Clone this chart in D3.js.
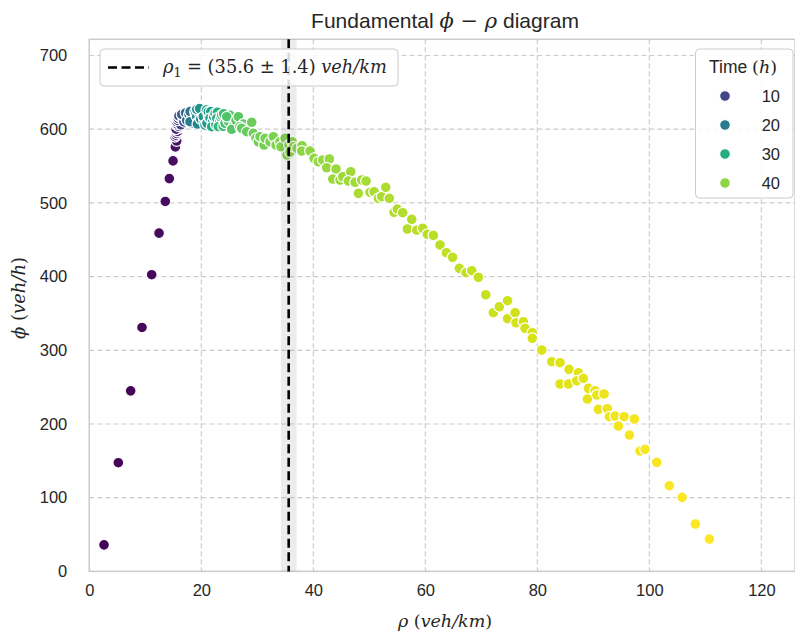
<!DOCTYPE html>
<html><head><meta charset="utf-8">
<script src="https://cdn.jsdelivr.net/npm/d3@7"></script>
<style>html,body{margin:0;padding:0;background:#fff;} svg{display:block;}</style>
</head><body>
<script>
// ---- data ----
const rho = [2.63,5.18,7.39,9.41,11.14,12.45,13.57,14.29,14.95,15.36,15.6,
 15.30,15.61,15.89,15.61,16.20,15.61,16.50,15.89,16.20,16.79,17.39,16.79,17.98,17.39,18.29,18.57,18.88,17.98,19.18,19.46,20.07,19.18,20.36,20.66,21.25,21.55,21.86,22.45,22.75,23.04,23.64,24.23,24.54,25.43,26.61,26.91,27.21,28.11,29.00,29.29,
 29.77,30.18,30.48,31.20,31.38,32.27,32.86,33.34,34.05,34.23,34.95,35.30,35.66,35.84,36.20,36.43,37.09,37.98,37.93,39.41,40.13,40.89,41.68,42.86,42.39,44.05,43.46,44.77,45.25,46.68,46.25,47.45,48.64,49.41,48.04,50.13,50.84,51.61,52.21,52.93,53.57,54.41,55.00,55.96,57.57,56.79,58.46,59.54,60.36,61.43,62.63,63.75,64.86,66.07,67.27,68.29,69.46,70.79,72.14,73.21,74.68,74.68,76.02,76.20,77.50,77.80,79.09,79.09,80.79,82.57,84.05,85.66,87.32,84.05,85.54,87.04,88.21,89.11,90.30,88.93,90.61,91.91,90.89,92.50,92.86,93.88,95.48,97.32,94.46,96.43,98.34,99.23,101.32,103.57,105.84,108.21,110.71];
const phi = [36,147.5,245,331,402.6,459,502,533,557,576,584,
 589.8,594.4,601.2,605.7,608.0,610.2,612.0,614.8,617.0,614.8,619.3,621.6,617.0,612.0,620.6,608.0,623.7,610.2,617.0,610.2,625.1,627.0,617.0,605.7,623.7,614.8,603.4,621.6,614.8,603.4,619.3,608.0,617.0,599.9,617.0,603.4,601.2,596.6,609.4,594.4,
 587.6,583.0,589.8,578.5,587.6,583.0,589.8,578.5,583.0,576.2,587.6,565.0,578.5,569.1,583.0,576.2,574.1,577.6,570.4,570.4,560.5,555.9,558.2,559.6,547.7,546.0,532.4,531.1,535.5,542.3,529.7,528.0,531.1,529.7,513.0,514.4,515.2,506.2,508.4,521.2,506.2,487.2,491.7,486.7,477.7,464.6,463.2,465.5,457.4,456.0,442.9,432.4,426.2,411.2,405.3,408.0,399.0,375.4,351.0,359.1,367.3,342.9,351.0,337.4,338.8,329.8,323.9,316.3,300.4,284.5,283.2,274.2,269.6,254.3,254.3,258.7,262.0,248.4,245.2,233.9,239.3,240.7,219.9,220.7,209.9,210.8,209.9,206.8,197.3,185.0,163.3,165.6,148.0,116.3,100.5,64.3,43.9];
const time = [0.2,0.4,0.6,0.8,1.0,1.2,1.4,1.6,1.8,2.0,2.2,
 3,4,5,6,7,8,9,10,11,12,13,14,15,16,17,18,19,20,21,22,23,24,25,26,27,28,29,30,31,32,33,34,35,35.5,36,36.5,36.8,37,37.3,37.5,
 37.7,37.9,38.0,38.2,38.3,38.5,38.6,38.8,38.9,39.0,39.1,39.2,39.3,39.4,39.5,39.6,39.7,39.8,39.9,40.0,40.2,40.4,40.5,40.6,40.8,40.9,41.0,41.1,41.2,41.3,41.4,41.5,41.6,41.7,41.8,41.9,42.0,42.1,42.2,42.3,42.4,42.5,42.6,42.7,42.8,42.9,43.0,43.1,43.2,43.3,43.4,43.5,43.6,43.7,43.8,43.9,44.0,44.2,44.4,44.5,44.6,44.7,44.8,44.9,45.0,45.1,45.2,45.3,45.4,45.5,45.6,45.7,45.8,45.9,46.0,46.1,46.2,46.3,46.4,46.5,46.6,46.7,46.8,46.9,47.0,47.1,47.2,47.3,47.4,47.5,47.6,47.7,47.8,47.9,48.0,48.1,48.2];
// extra samples in the saturated (peak) regime
const rhoPeak = [15.45,15.75,15.5,15.95,15.7,16.05,16.35,15.8,16.6,16.0,16.9,17.1,16.5,17.6,17.2,17.8,18.1,18.5,18.0,18.8,19.0,19.6,19.3,19.9,20.2,19.7,20.5,20.9,21.0,21.3,21.7,22.0,22.2,22.6,22.9,23.3,23.5,23.9,24.0,24.8,25.1,25.8,26.2,27.5,27.8];
const phiPeak = [592,597,600,604,607,611,606,612,616,618,610,617,620,614,622,620,612,618,624,611,620,623,607,614,621,628,611,626,608,618,624,610,617,606,623,611,616,604,621,611,619,605,612,607,599];
const timePeak = [3.5,4.5,5.5,6.5,7.5,8.5,9.2,9.6,10.5,11.5,12.5,13.5,14.2,14.6,15.5,16.5,17.5,18.3,18.7,19.5,20.5,21.5,22.3,22.7,23.5,24.3,24.7,25.5,26.3,26.7,27.5,28.3,28.7,29.5,30.5,31.3,31.7,32.5,33.5,34.3,34.7,35.2,35.7,36.2,36.6];
const legendTimes = [10,20,30,40];
const xTicks = [0,20,40,60,80,100,120];
const yTicks = [0,100,200,300,400,500,600,700];
const rho1 = 35.6, rho1Err = 1.4;

// ---- layout ----
const W = 795, H = 631;
const m = {left: 89.3, right: 795, top: 39.3, bottom: 571.4};
const svg = d3.select("body").append("svg").attr("width", W).attr("height", H);
const x = d3.scaleLinear().domain([0, 126]).range([m.left, m.right]);
const y = d3.scaleLinear().domain([0, 722]).range([m.bottom, m.top]);
const color = d3.scaleSequential(d3.interpolateViridis).domain([0, 48.2]);
const sans = "'Liberation Sans', Arial, sans-serif";
const serif = "'DejaVu Serif', 'Liberation Serif', serif";

// grid
const grid = svg.append("g");
grid.selectAll("line.gx").data(xTicks).join("line")
  .attr("x1", d => x(d)).attr("x2", d => x(d)).attr("y1", m.top).attr("y2", m.bottom)
  .attr("stroke", "#cccccc").attr("stroke-width", 1.2).attr("stroke-dasharray", "5,3");
grid.selectAll("line.gy").data(yTicks).join("line")
  .attr("y1", d => y(d)).attr("y2", d => y(d)).attr("x1", m.left).attr("x2", m.right)
  .attr("stroke", "#cccccc").attr("stroke-width", 1.2).attr("stroke-dasharray", "5,3");

// frame
svg.append("rect").attr("x", m.left).attr("y", m.top)
  .attr("width", m.right - m.left).attr("height", m.bottom - m.top)
  .attr("fill", "none").attr("stroke", "#cccccc").attr("stroke-width", 1.5);

// axes (labels only)
const xAxis = svg.append("g").attr("transform", `translate(0,${m.bottom})`)
  .call(d3.axisBottom(x).tickValues(xTicks).tickSize(0).tickPadding(13));
const yAxis = svg.append("g").attr("transform", `translate(${m.left},0)`)
  .call(d3.axisLeft(y).tickValues(yTicks).tickSize(0).tickPadding(22));
[xAxis, yAxis].forEach(a => {
  a.select(".domain").remove();
  a.selectAll("text").attr("font-family", sans).attr("font-size", 16.5).attr("fill", "#262626");
});

// points (drawn in time order)
const pts = rho.map((r, i) => ({r, p: phi[i], t: time[i]}))
  .concat(rhoPeak.map((r, i) => ({r, p: phiPeak[i], t: timePeak[i]})))
  .sort((a, b) => a.t - b.t);
svg.append("g").selectAll("circle").data(pts).join("circle")
  .attr("cx", d => x(d.r)).attr("cy", d => y(d.p)).attr("r", 5.4)
  .attr("fill", d => color(d.t)).attr("stroke", "#fff").attr("stroke-width", 1.2);

// uncertainty band + line
svg.append("rect").attr("x", x(rho1 - rho1Err)).attr("y", m.top)
  .attr("width", x(rho1 + rho1Err) - x(rho1 - rho1Err)).attr("height", m.bottom - m.top)
  .attr("fill", "#808080").attr("opacity", 0.15);
svg.append("line").attr("x1", x(rho1)).attr("x2", x(rho1)).attr("y1", m.top).attr("y2", m.bottom)
  .attr("stroke", "#000").attr("stroke-width", 2.6).attr("stroke-dasharray", "9,4.5");

// title
const title = svg.append("text").attr("x", 445).attr("y", 28).attr("text-anchor", "middle")
  .attr("font-family", sans).attr("font-size", 21).attr("fill", "#262626");
title.append("tspan").text("Fundamental ");
title.append("tspan").attr("font-family", serif).attr("font-style", "italic").text("ϕ");
title.append("tspan").attr("font-family", serif).text(" − ");
title.append("tspan").attr("font-family", serif).attr("font-style", "italic").text("ρ");
title.append("tspan").text(" diagram");

// axis labels
const xl = svg.append("text").attr("x", 445).attr("y", 627).attr("text-anchor", "middle")
  .attr("font-family", serif).attr("font-size", 17.5).attr("fill", "#262626");
xl.append("tspan").attr("font-style", "italic").text("ρ");
xl.append("tspan").text("  (");
xl.append("tspan").attr("font-style", "italic").text("veh/km");
xl.append("tspan").text(")");
const yl = svg.append("text").attr("transform", "translate(25,298) rotate(-90)").attr("text-anchor", "middle")
  .attr("font-family", serif).attr("font-size", 18).attr("fill", "#262626");
yl.append("tspan").attr("font-style", "italic").text("ϕ");
yl.append("tspan").text("  (");
yl.append("tspan").attr("font-style", "italic").text("veh/h");
yl.append("tspan").text(")");

// legend 1
const l1 = svg.append("g");
l1.append("rect").attr("x", 100).attr("y", 49).attr("width", 298).attr("height", 37).attr("rx", 4)
  .attr("fill", "#fff").attr("fill-opacity", 0.85).attr("stroke", "#cccccc").attr("stroke-width", 1);
l1.append("line").attr("x1", 108).attr("x2", 149).attr("y1", 67.5).attr("y2", 67.5)
  .attr("stroke", "#000").attr("stroke-width", 2.6).attr("stroke-dasharray", "9,4.5");
const lt = l1.append("text").attr("x", 163).attr("y", 73).attr("font-family", serif)
  .attr("font-size", 17.8).attr("fill", "#262626");
lt.append("tspan").attr("font-style", "italic").text("ρ");
lt.append("tspan").attr("font-size", 12.5).attr("dy", 4).text("1");
lt.append("tspan").attr("dy", -4).text(` = (${rho1} ± ${rho1Err})  `);
lt.append("tspan").attr("font-style", "italic").text("veh/km");

// legend 2
const l2 = svg.append("g");
l2.append("rect").attr("x", 695.5).attr("y", 49).attr("width", 97.5).attr("height", 149).attr("rx", 4)
  .attr("fill", "#fff").attr("fill-opacity", 0.85).attr("stroke", "#cccccc").attr("stroke-width", 1);
const lt2 = l2.append("text").attr("x", 743).attr("y", 73).attr("text-anchor", "middle")
  .attr("font-family", sans).attr("font-size", 17.5).attr("fill", "#262626");
lt2.append("tspan").text("Time ");
lt2.append("tspan").attr("font-family", serif).text("(");
lt2.append("tspan").attr("font-family", serif).attr("font-style", "italic").text("h");
lt2.append("tspan").attr("font-family", serif).text(")");
const ly = d3.scalePoint().domain(legendTimes).range([96, 183]);
l2.selectAll("circle").data(legendTimes).join("circle")
  .attr("cx", 725).attr("cy", d => ly(d)).attr("r", 5.4)
  .attr("fill", d => color(d)).attr("stroke", "#fff").attr("stroke-width", 1.2);
l2.selectAll("text.lab").data(legendTimes).join("text").attr("class", "lab")
  .attr("x", 780).attr("y", d => ly(d) + 6).attr("text-anchor", "end")
  .attr("font-family", sans).attr("font-size", 16.5).attr("fill", "#262626").text(d => d);
</script>
</body></html>
